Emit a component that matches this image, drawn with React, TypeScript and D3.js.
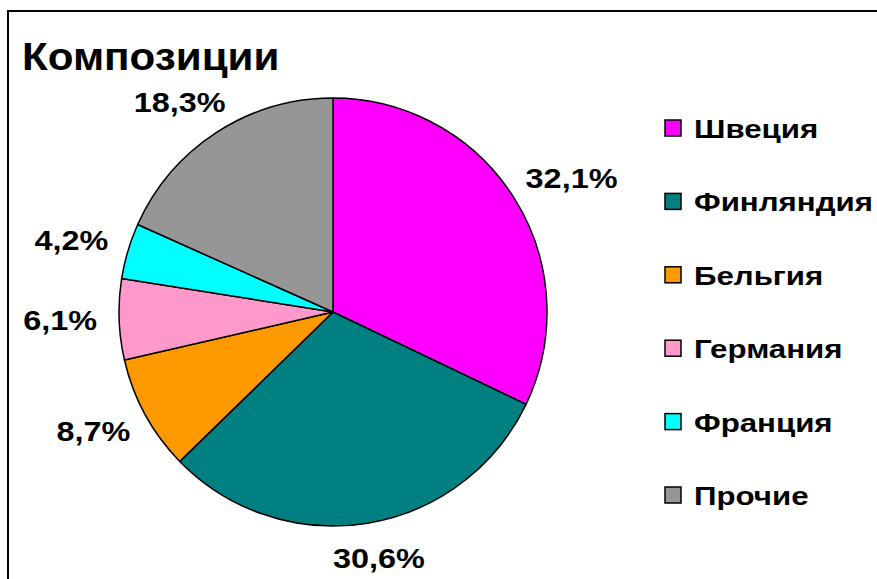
import React, { useEffect, useRef } from "react";
import * as d3 from "d3";

const categories = ["Швеция", "Финляндия", "Бельгия", "Германия", "Франция", "Прочие"];
const values = [32.1, 30.6, 8.7, 6.1, 4.2, 18.3];
const labels = ["32,1%", "30,6%", "8,7%", "6,1%", "4,2%", "18,3%"];
const colors = ["#FF00FF", "#008080", "#FF9900", "#FF99CC", "#00FFFF", "#969696"];
const title = "Композиции";

const W = 877;
const H = 579;
const FONT = "'Liberation Sans', Arial, Helvetica, sans-serif";

export default function App() {
  const ref = useRef<SVGSVGElement>(null);

  useEffect(() => {
    const svg = d3.select(ref.current);
    svg.selectAll("*").remove();

    svg.append("rect").attr("width", W).attr("height", H).attr("fill", "#fff");
    svg.append("path")
      .attr("d", `M${W + 5},11 L8,11 L8,${H + 5}`)
      .attr("fill", "none").attr("stroke", "#000").attr("stroke-width", 2);

    svg.append("text")
      .attr("transform", "translate(22,70) scale(1.11,1)")
      .attr("font-family", FONT).attr("font-weight", "bold").attr("font-size", 38)
      .text(title);

    const cx = 333, cy = 312, r = 214;
    const pie = d3.pie<number>().sort(null).value((d) => d);
    const arcs = pie(values);
    const arc = d3.arc<d3.PieArcDatum<number>>().innerRadius(0).outerRadius(r);

    const g = svg.append("g").attr("transform", `translate(${cx},${cy})`);
    g.selectAll("path.slice").data(arcs).enter().append("path")
      .attr("class", "slice")
      .attr("d", arc)
      .attr("fill", (_d, i) => colors[i])
      .attr("stroke", "#000").attr("stroke-width", 1.5).attr("stroke-linejoin", "round");

    const lsx = 1.2;
    const lg = svg.append("g");
    arcs.forEach((a, i) => {
      const mid = (a.startAngle + a.endAngle) / 2;
      const s = Math.sin(mid), c = Math.cos(mid);
      const t = lg.append("text")
        .attr("font-family", FONT).attr("font-weight", "bold").attr("font-size", 27)
        .attr("text-anchor", "middle")
        .text(labels[i]);
      const bb = (t.node() as SVGTextElement).getBBox();
      const hw = (bb.width * lsx) / 2, hh = 14;
      const R = r + 22;
      const x = cx + R * s + s * hw;
      const y = cy - R * c - c * hh;
      t.attr("transform", `translate(${x},${y + 9.5}) scale(${lsx},1)`);
    });

    const leg = svg.append("g");
    categories.forEach((name, i) => {
      const y = 128 + i * 73.4;
      leg.append("rect")
        .attr("x", 665).attr("y", y - 8).attr("width", 16).attr("height", 16)
        .attr("fill", colors[i]).attr("stroke", "#000").attr("stroke-width", 1.5);
      leg.append("text")
        .attr("transform", `translate(694,${y + 10}) scale(1.25,1)`)
        .attr("font-family", FONT).attr("font-weight", "bold").attr("font-size", 25)
        .text(name);
    });
  }, []);

  return <svg ref={ref} width={W} height={H} style={{ display: "block", position: "absolute", left: 0, top: 0 }} />;
}
